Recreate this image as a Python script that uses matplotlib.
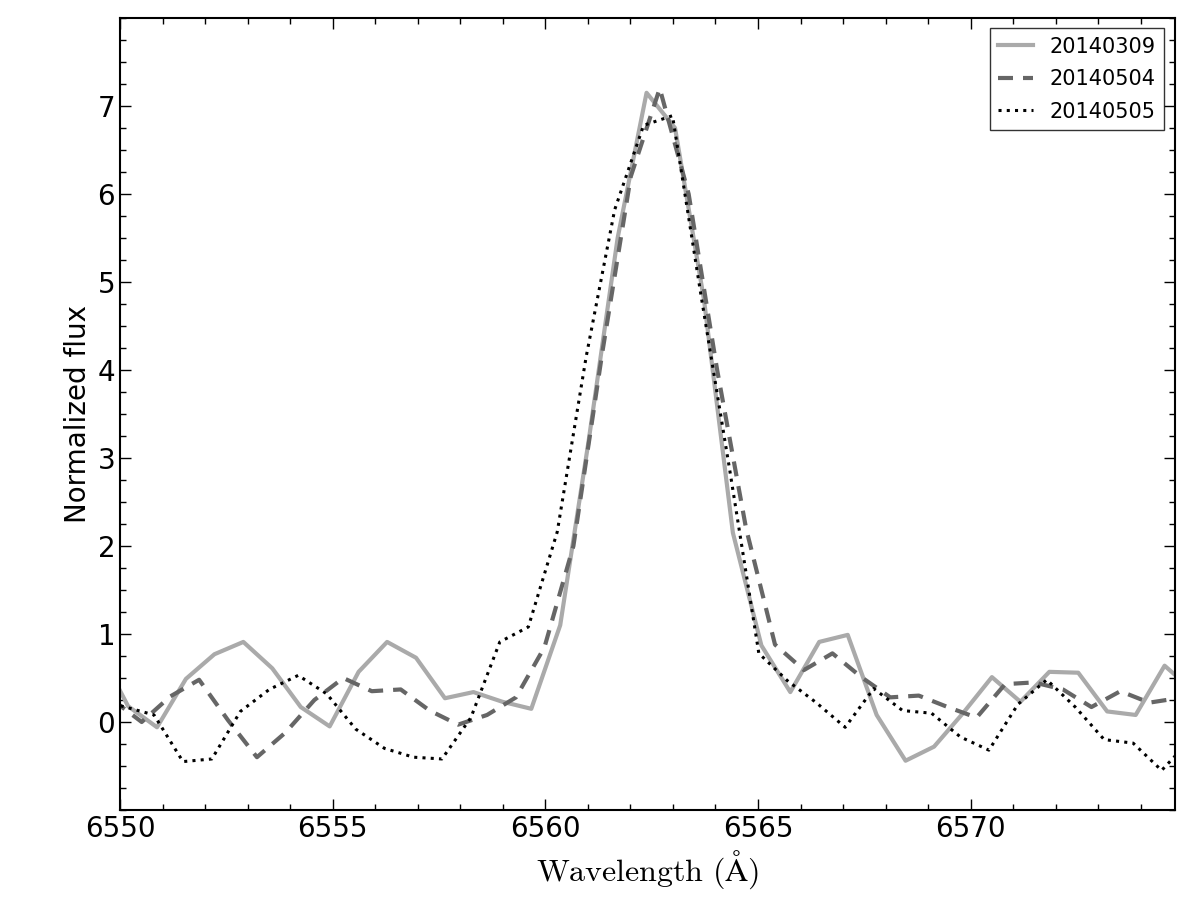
import numpy as np
import matplotlib
matplotlib.use("Agg")
import matplotlib.pyplot as plt
from matplotlib.ticker import MultipleLocator

plt.rcParams['mathtext.fontset'] = 'cm'

# Spectra around H-alpha
wave_0309 = [6549.52, 6550.19, 6550.87, 6551.55, 6552.22, 6552.90, 6553.58, 6554.25,
             6554.93, 6555.61, 6556.28, 6556.96, 6557.64, 6558.31, 6558.99, 6559.67,
             6560.35, 6561.02, 6561.70, 6562.38, 6563.05, 6563.73, 6564.41, 6565.08,
             6565.76, 6566.44, 6567.11, 6567.79, 6568.47, 6569.14, 6569.82, 6570.50,
             6571.17, 6571.85, 6572.53, 6573.21, 6573.88, 6574.56, 6575.24]
flux_0309 = [0.80, 0.18, -0.06, 0.49, 0.77, 0.91, 0.61, 0.17,
             -0.05, 0.57, 0.91, 0.73, 0.27, 0.34, 0.23, 0.15,
             1.10, 3.20, 5.50, 7.15, 6.75, 4.80, 2.15, 0.87,
             0.34, 0.91, 0.99, 0.08, -0.44, -0.28, 0.10, 0.51,
             0.23, 0.57, 0.56, 0.12, 0.08, 0.64, 0.35]

wave_0504 = [6549.83, 6550.51, 6551.18, 6551.86, 6552.54, 6553.22, 6553.89, 6554.57,
             6555.25, 6555.92, 6556.60, 6557.28, 6557.95, 6558.63, 6559.31, 6559.98,
             6560.66, 6561.34, 6562.01, 6562.69, 6563.37, 6564.04, 6564.72, 6565.40,
             6566.08, 6566.75, 6567.43, 6568.11, 6568.78, 6569.46, 6570.14, 6570.81,
             6571.49, 6572.17, 6572.84, 6573.52, 6574.20, 6574.87]
flux_0504 = [0.25, 0.00, 0.29, 0.48, 0.02, -0.40, -0.12, 0.25,
             0.50, 0.35, 0.37, 0.13, -0.03, 0.08, 0.28, 0.85,
             2.00, 4.20, 6.20, 7.20, 6.00, 4.00, 2.20, 0.88,
             0.59, 0.78, 0.51, 0.28, 0.30, 0.17, 0.05, 0.43,
             0.45, 0.37, 0.17, 0.35, 0.22, 0.27]

wave_0505 = [6549.45, 6550.13, 6550.80, 6551.48, 6552.16, 6552.83, 6553.51, 6554.19,
             6554.86, 6555.54, 6556.22, 6556.90, 6557.57, 6558.25, 6558.93, 6559.60,
             6560.28, 6560.96, 6561.63, 6562.31, 6562.99, 6563.66, 6564.34, 6565.02,
             6565.69, 6566.37, 6567.05, 6567.72, 6568.40, 6569.08, 6569.76, 6570.43,
             6571.11, 6571.79, 6572.46, 6573.14, 6573.82, 6574.49, 6575.17]
flux_0505 = [0.25, 0.17, 0.08, -0.45, -0.42, 0.12, 0.37, 0.53,
             0.32, -0.08, -0.30, -0.40, -0.42, 0.05, 0.91, 1.08,
             2.16, 4.15, 5.82, 6.78, 6.89, 4.85, 2.85, 0.78,
             0.47, 0.22, -0.06, 0.38, 0.13, 0.10, -0.17, -0.32,
             0.20, 0.48, 0.17, -0.20, -0.24, -0.55, -0.20]

fig = plt.figure(figsize=(12, 9), dpi=100)
ax = fig.add_axes([0.1, 0.1, 0.879, 0.88])

ax.plot(wave_0309, flux_0309, color='#aaaaaa', lw=3, label='20140309')
ax.plot(wave_0504, flux_0504, color='#666666', lw=3, linestyle=(0, (3.6, 2.4)), label='20140504')
ax.plot(wave_0505, flux_0505, color='black', lw=2.2, linestyle=(0, (1.0, 1.7)), label='20140505')

ax.set_xlim(6550, 6574.8)
ax.set_ylim(-1, 8)
ax.set_xticks([6550, 6555, 6560, 6565, 6570])
ax.set_yticks(range(0, 8))
ax.xaxis.set_minor_locator(MultipleLocator(1))
ax.yaxis.set_minor_locator(MultipleLocator(0.25))
ax.tick_params(which='both', direction='in', top=True, right=True, labelsize=20, width=1)
ax.tick_params(which='major', length=8)
ax.tick_params(which='minor', length=4)
for sp in ax.spines.values():
    sp.set_linewidth(1.5)

ax.set_xlabel(r'$\mathrm{Wavelength\ (\AA)}$', fontsize=23)
ax.set_ylabel('Normalized flux', fontsize=20)

leg = ax.legend(loc='upper right', fontsize=15, fancybox=False, handlelength=1.7,
                labelspacing=0.6)
leg.get_frame().set_edgecolor('black')
leg.get_frame().set_linewidth(1.0)

fig.savefig('out.png', dpi=100)
